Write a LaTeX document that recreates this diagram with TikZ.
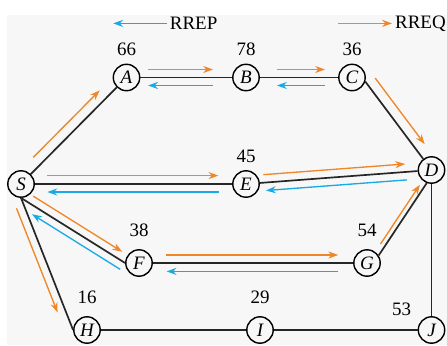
\documentclass[tikz,border=0pt]{standalone}
\usepackage{fontspec}
\setmainfont{Liberation Serif}
\usetikzlibrary{positioning,calc,arrows.meta}
\definecolor{reqorange}{RGB}{240,134,38}
\definecolor{repblue}{RGB}{24,170,228}
\definecolor{bggray}{RGB}{247,247,247}
\newcommand{\picfont}{\fontsize{13.5pt}{15pt}\selectfont}
\tikzset{
	host/.style={circle,draw,line width=1pt,fill=bggray,minimum size=0.66cm,inner sep=0pt,font=\picfont\itshape},
	num/.style={inner sep=0pt},
	link/.style={line width=1.2pt,black!85},
	req/.style={reqorange,line width=0.95pt,-{Stealth[length=7pt,width=5pt]}},
	rep/.style={repblue,line width=0.95pt,-{Stealth[length=7pt,width=5pt]}},
}
% message arrow beside a link: style, from, to, gap at start, gap at end, side offset
\newcommand{\msg}[6]{\draw[#1,shorten <=#4,shorten >=#5] ($(#2)!#6!90:(#3)$) -- ($(#3)!#6!-90:(#2)$);}
\begin{document}
\begin{tikzpicture}[font=\picfont]
		\useasboundingbox (0,0) rectangle (11.175,8.625);
		\fill[bggray] (0.175,0) rectangle (11.175,8.25);
		% legend
		\node[anchor=west,inner sep=2pt] (rrep) at (4.17,8.04) {RREP};
		\coordinate (rrepend) at (2.83,8.04);
		\draw[rep] (rrep.west) -- (rrepend);
		\node[anchor=west,inner sep=2pt] (rreq) at (9.8,8.04) {RREQ};
		\coordinate (rreqstart) at (8.46,8.04);
		\draw[req] (rreqstart) -- (rreq.west);
		% hosts
		\node[host] (S) at (0.525,4.025) {S};
		\node[host] (A) at (3.1625,6.6875) {A};
		\node[host] (B) at (6.15,6.6875) {B};
		\node[host] (C) at (8.8,6.6875) {C};
		\node[host] (E) at (6.15,4.025) {E};
		\node[host] (D) at (10.7875,4.375) {D};
		\node[host] (F) at (3.475,2.05) {F};
		\node[host] (G) at (9.175,2.05) {G};
		\node[host] (H) at (2.175,0.375) {H};
		\node[host] (I) at (6.5,0.375) {I};
		\node[host] (J) at (10.7875,0.375) {J};
		% numbers
		\node[num,above=0.19cm of A] (nA) {66};
		\node[num,above=0.19cm of B] (nB) {78};
		\node[num,above=0.19cm of C] (nC) {36};
		\node[num,above=0.19cm of E] (nE) {45};
		\node[num,above=0.3cm of F] (nF) {38};
		\node[num,above=0.3cm of G] (nG) {54};
		\node[num,above=0.3cm of H] (nH) {16};
		\node[num,above=0.3cm of I] (nI) {29};
		\node[num,above left=0.115cm and 0.26cm of J] (nJ) {53};
		% links
		\draw[link] (S) -- (A);
		\draw[link] (A) -- (B);
		\draw[link] (B) -- (C);
		\draw[link] (C.-17) -- (D);
		\draw[link] (S) -- (E);
		\draw[link] (E) -- (D);
		\draw[link] (S.south) -- (F.west);
		\draw[link] (F) -- (G);
		\draw[link] (G.33) -- (D.250);
		\draw[link] (D) -- (J);
		\draw[link] (S.south) -- (H.west);
		\draw[link] (H) -- (I);
		\draw[link] (I) -- (J);
		% route requests
		\msg{req}{S}{A}{0.69cm}{0.7cm}{0.25cm}
		\msg{req}{A}{B}{0.54cm}{0.825cm}{0.2cm}
		\msg{req}{B}{C}{0.775cm}{0.675cm}{0.2cm}
		\msg{req}{C.-17}{D}{0.08cm}{0.62cm}{0.25cm}
		\msg{req}{S}{E}{0.64cm}{0.69cm}{0.21cm}
		\msg{req}{E}{D}{0.45cm}{0.645cm}{0.2cm}
		\msg{req}{S.south}{F.west}{0.235cm}{0.21cm}{0.2cm}
		\msg{req}{F}{G}{0.675cm}{0.72cm}{0.2cm}
		\msg{req}{G.33}{D.250}{0.265cm}{0.13cm}{0.12cm}
		\msg{req}{S.south}{H.west}{0.2cm}{0.55cm}{-0.2cm}
		% route replies
		\msg{rep}{B}{A}{0.825cm}{0.54cm}{0.2cm}
		\msg{rep}{C}{B}{0.675cm}{0.775cm}{0.2cm}
		\msg{rep}{E}{S}{0.675cm}{0.66cm}{0.2cm}
		\msg{rep}{D}{E}{0.635cm}{0.485cm}{0.2cm}
		\msg{rep}{G}{F}{0.725cm}{0.69cm}{0.21cm}
		\msg{rep}{F.west}{S.south}{0.02cm}{0.45cm}{0.2cm}
\end{tikzpicture}
\end{document}
